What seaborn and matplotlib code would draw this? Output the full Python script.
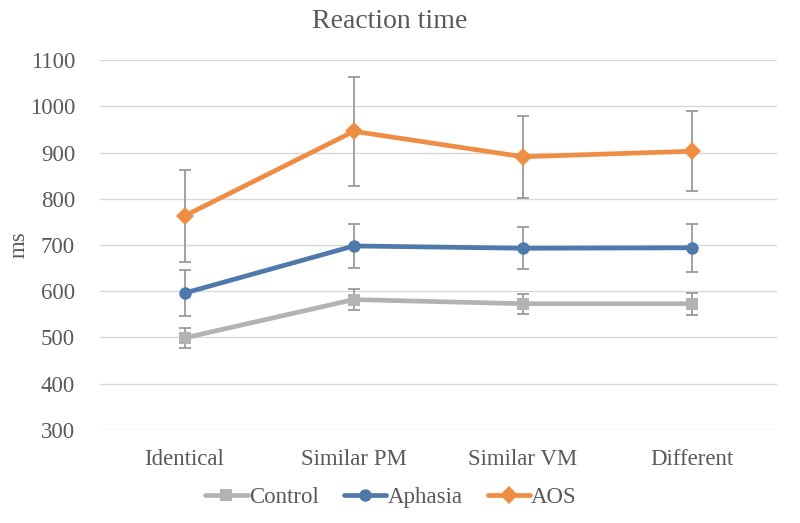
import numpy as np
import pandas as pd
import seaborn as sns
import matplotlib.pyplot as plt

categories = ["Identical", "Similar PM", "Similar VM", "Different"]
groups = ["Control", "Aphasia", "AOS"]
control = [499, 582, 573, 573]
aphasia = [596, 698, 693, 694]
aos = [763, 946, 891, 903]
control_err = [21, 23, 22, 24]
aphasia_err = [50, 47, 45, 52]
aos_err = [99, 118, 89, 86]
yticks = [300, 400, 500, 600, 700, 800, 900, 1000, 1100]

colors = {"Control": "#B3B3B3", "Aphasia": "#4F79AB", "AOS": "#EE8E45"}
markers = {"Control": "s", "Aphasia": "o", "AOS": "D"}

sns.set_theme(style="white")
plt.rcParams['font.family'] = ['Liberation Serif', 'DejaVu Serif']

values = {"Control": control, "Aphasia": aphasia, "AOS": aos}
errs = {"Control": control_err, "Aphasia": aphasia_err, "AOS": aos_err}
rows = []
for g in groups:
    for c, v, e in zip(categories, values[g], errs[g]):
        rows.append({"Condition": c, "Group": g, "RT": v, "err": e})
df = pd.DataFrame(rows)

fig = plt.figure(figsize=(8, 5.23), dpi=100)
ax = fig.add_axes([0.125, 0.178, 0.846, 0.707])

xpos = np.arange(len(categories))
for g in groups:
    ax.errorbar(xpos, values[g], yerr=errs[g], fmt="none", ecolor="#9A9A9A",
                elinewidth=1.3, capsize=4, capthick=1.3, zorder=2)

sns.lineplot(data=df, x="Condition", y="RT", hue="Group", style="Group",
             hue_order=groups, style_order=groups, palette=colors,
             markers=markers, dashes=False, linewidth=3.4, markersize=9,
             markeredgewidth=0, ax=ax, zorder=3, sort=False)

ax.set_xlim(-0.5, len(categories) - 0.5)
ax.set_ylim(300, 1100)
ax.set_yticks(yticks)
ax.set_yticklabels([str(t) for t in yticks])
ax.yaxis.grid(True, color="#D9D9D9", linewidth=1.0)
ax.set_axisbelow(True)
for s in ax.spines.values():
    s.set_visible(False)
ax.tick_params(axis="both", length=0, labelsize=16.5, colors="#595959")
ax.tick_params(axis="y", pad=18)
ax.tick_params(axis="x", pad=14)
ax.set_xlabel("")
ax.set_ylabel("")
fig.text(19 / 800, 1 - 245 / 523, "ms", fontsize=16.5, color="#595959",
         rotation=90, ha="center", va="center")
fig.text(390 / 800, 1 - 22 / 523, "Reaction time", fontsize=20, color="#595959",
         ha="center", va="center")

handles, labels = ax.get_legend_handles_labels()
for h in handles:
    h.set_markersize(9)
fig.legend(handles, labels, loc="center", bbox_to_anchor=(391 / 800, 1 - 497 / 523),
           ncol=3, frameon=False, fontsize=16.5, handlelength=1.85,
           columnspacing=1.1, handletextpad=0.05, labelcolor="#595959")
ax.get_legend().remove()

fig.savefig("out.png", dpi=100)
